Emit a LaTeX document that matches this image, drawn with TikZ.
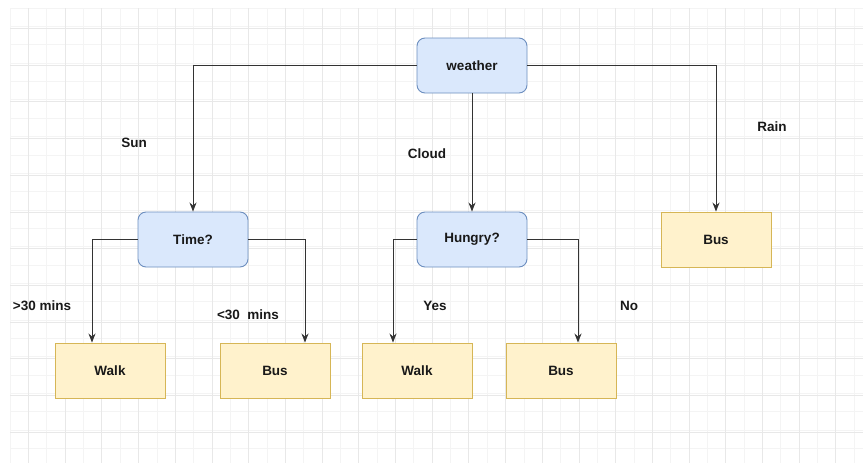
\documentclass[tikz,border=0pt]{standalone}
\usepackage{fontspec}
\setmainfont{Liberation Sans}
\usetikzlibrary{arrows.meta}
\definecolor{gridmajor}{HTML}{E8E8E8}
\definecolor{gridminor}{HTML}{F4F4F4}
\definecolor{decfill}{HTML}{DAE8FC}
\definecolor{decline}{HTML}{6C8EBF}
\definecolor{leaffill}{HTML}{FFF2CC}
\definecolor{leafline}{HTML}{D6B656}
\definecolor{wire}{HTML}{333333}
\tikzset{
  decision/.style={draw=decline, fill=decfill, rounded corners=8pt, line width=0.9pt,
    minimum width=110pt, minimum height=55pt, text=black!90, font=\bfseries\fontsize{13.5}{15}\selectfont},
  leaf/.style={draw=leafline, fill=leaffill, line width=0.9pt,
    minimum width=110pt, minimum height=55pt, text=black!90, font=\bfseries\fontsize{13.5}{15}\selectfont},
  wirearrow/.style={draw=wire, line width=1pt, -{Stealth[length=9pt,width=7pt]}},
  edgelabel/.style={font=\bfseries\fontsize{13.5}{15}\selectfont, text=black!90}
}
\begin{document}
\begin{tikzpicture}[x=1pt, y=-1pt]
  \useasboundingbox (0,0) rectangle (863,463);
  \fill[white] (0,0) rectangle (863,463);
  % background grid: faint minor lines, slightly darker major lines
  \foreach \i in {0,...,46} {
    \draw[gridminor, line width=0.6pt] ({10+18.35*\i},8) -- ({10+18.35*\i},463);
  }
  \foreach \j in {0,...,24} {
    \draw[gridminor, line width=0.6pt] (10,{8+18.35*\j}) -- (863,{8+18.35*\j});
  }
  \foreach \i in {0,...,23} {
    \draw[gridmajor, line width=0.8pt] ({28.4+36.7*\i},8) -- ({28.4+36.7*\i},463);
  }
  \foreach \j in {0,...,12} {
    \draw[gridmajor, line width=0.8pt] (10,{28.4+36.7*\j}) -- (863,{28.4+36.7*\j});
  }

  % decision nodes
  \node[decision] (weather) at (472,65.5) {weather};
  \node[decision] (time) at (193,239.5) {Time?};
  \node[decision] (hungry) at (472,239.5) {Hungry?};

  % leaf nodes
  \node[leaf] (busrain) at (716,239.5) {Bus};
  \node[leaf] (walkA) at (110,370.5) {Walk};
  \node[leaf] (busA) at (275,370.5) {Bus};
  \node[leaf] (walkB) at (417,370.5) {Walk};
  \node[leaf] (busB) at (561,370.5) {Bus};

  % connectors
  \draw[wirearrow] (weather.west) -| (time.north);
  \draw[wirearrow] (weather.south) -- (hungry.north);
  \draw[wirearrow] (weather.east) -| (busrain.north);
  \draw[wirearrow] (time.west) -| (walkA.north -| 92,0);
  \draw[wirearrow] (time.east) -| (busA.north -| 305,0);
  \draw[wirearrow] (hungry.west) -| (walkB.north -| 393,0);
  \draw[wirearrow] (hungry.east) -| (busB.north -| 578,0);

  % branch labels
  \node[edgelabel] (lsun) at (134,142.5) {Sun};
  \node[edgelabel] (lcloud) at (427,154) {Cloud};
  \node[edgelabel] (lrain) at (772,127) {Rain};
  \node[edgelabel] (lgt) at (42,306) {>30 mins};
  \node[edgelabel] (llt) at (248,315) {<30\ \ mins};
  \node[edgelabel] (lyes) at (435,306) {Yes};
  \node[edgelabel] (lno) at (629,306) {No};
\end{tikzpicture}
\end{document}
